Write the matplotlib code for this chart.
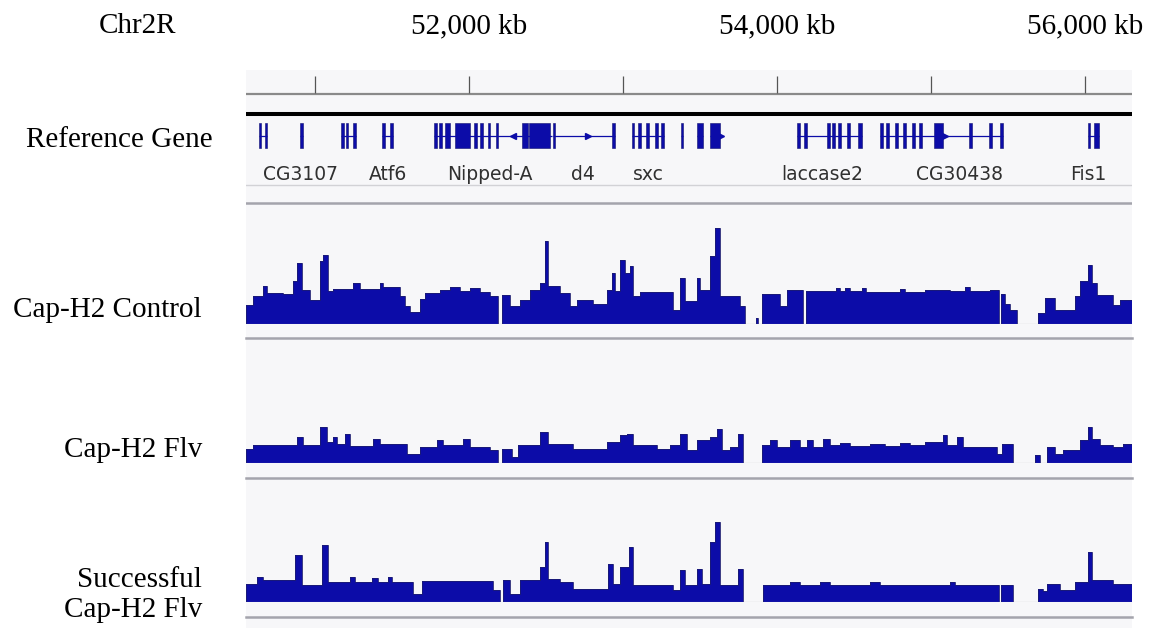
import matplotlib
matplotlib.use("Agg")
import matplotlib.pyplot as plt

# genomic window (kb) shown in the browser view
view_kb = (50552, 56305)
ruler_ticks = [51000, 52000, 53000, 54000, 55000, 56000]
label_ticks = [52000, 54000, 56000]
tick_labels = ["52,000 kb", "54,000 kb", "56,000 kb"]

# reference gene models: span, exons and strand arrows (kb)
gene_spans = [(50636, 50688), (50903, 50922), (51169, 51266), (51435, 51506),
              (51773, 52539), (52545, 52948), (53058, 53266), (53377, 53390),
              (53481, 53519), (53565, 53643), (54130, 54552), (54669, 55468),
              (56019, 56090)]
gene_exons = [
    [(50636, 50650), (50674, 50688)],
    [(50903, 50922)],
    [(51169, 51188), (51201, 51214), (51247, 51266)],
    [(51435, 51455), (51487, 51506)],
    [(51773, 51792), (51805, 51825), (51844, 51877), (51909, 52006), (52032, 52052),
     (52071, 52091), (52123, 52136), (52175, 52188), (52344, 52383), (52390, 52526)],
    [(52545, 52558), (52929, 52948)],
    [(53058, 53071), (53097, 53117), (53149, 53169), (53208, 53227), (53247, 53266)],
    [(53377, 53390)],
    [(53481, 53519)],
    [(53565, 53630)],
    [(54130, 54149), (54175, 54195), (54325, 54344), (54357, 54377), (54396, 54416),
     (54455, 54474), (54526, 54552)],
    [(54669, 54688), (54708, 54727), (54766, 54786), (54818, 54838), (54877, 54896),
     (54922, 54942), (55019, 55078), (55247, 55266), (55377, 55396), (55448, 55468)],
    [(56019, 56035), (56058, 56090)],
]
arrow_pos = [52286, 52773, 53637, 55090]
arrow_dir = ["<", ">", ">", ">"]

gene_names = ["CG3107", "Atf6", "Nipped-A", "d4", "sxc", "laccase2", "CG30438", "Fis1"]
gene_label_kb = [50909, 51474, 52136, 52740, 53162, 54292, 55188, 56019]

# coverage tracks: bin edges (kb) and heights
control_edges = [50552, 50597, 50662, 50688, 50792, 50857, 50883, 50916, 50968, 51032,
                 51052, 51084, 51117, 51247, 51292, 51422, 51442, 51552, 51584, 51617,
                 51682, 51714, 51812, 51877, 51942, 52006, 52071, 52136, 52188, 52214,
                 52266, 52331, 52396, 52461, 52494, 52513, 52591, 52656, 52701, 52805,
                 52896, 52929, 52948, 52981, 53013, 53045, 53065, 53110, 53325, 53370,
                 53403, 53481, 53500, 53565, 53597, 53630, 53760, 53792, 53864, 53877,
                 53903, 54019, 54065, 54169, 54188, 54383, 54409, 54442, 54474, 54552,
                 54578, 54799, 54831, 54961, 55123, 55221, 55253, 55383, 55442, 55455,
                 55481, 55513, 55558, 55695, 55740, 55805, 55935, 55968, 56019, 56045,
                 56078, 56182, 56227, 56305]
control_vals = [19, 28, 38, 31, 30, 43, 61, 34, 24, 63,
                69, 33, 35, 41, 35, 41, 37, 28, 18, 12,
                25, 31, 34, 37, 33, 36, 32, 28, 0, 29,
                18, 24, 34, 41, 83, 38, 31, 18, 24, 20,
                34, 51, 33, 64, 51, 58, 28, 32, 14, 46,
                23, 46, 34, 68, 96, 28, 18, 0, 6, 0,
                30, 18, 34, 0, 33, 36, 33, 36, 33, 36,
                32, 35, 32, 34, 33, 37, 33, 34, 0, 30,
                20, 14, 0, 11, 26, 14, 28, 43, 59, 41,
                29, 19, 24]

flv_edges = [50552, 50597, 50883, 50922, 51032, 51078, 51117, 51143, 51195, 51227,
             51377, 51422, 51597, 51682, 51792, 51831, 51961, 52006, 52136, 52188,
             52214, 52279, 52318, 52461, 52513, 52675, 52896, 52981, 53026, 53065,
             53221, 53305, 53370, 53416, 53481, 53565, 53610, 53643, 53695, 53747,
             53779, 53903, 53955, 54000, 54084, 54149, 54195, 54234, 54299, 54344,
             54409, 54474, 54604, 54701, 54799, 54864, 54961, 55078, 55104, 55169,
             55208, 55429, 55461, 55533, 55675, 55708, 55753, 55805, 55857, 55968,
             56019, 56045, 56097, 56182, 56247, 56305]
flv_vals = [14, 18, 26, 18, 36, 21, 26, 19, 29, 17,
            24, 19, 9, 16, 23, 18, 24, 16, 13, 0,
            14, 6, 18, 31, 19, 14, 21, 28, 29, 18,
            14, 18, 29, 13, 23, 26, 34, 13, 16, 29,
            0, 18, 23, 16, 23, 16, 23, 16, 24, 18,
            20, 17, 19, 17, 20, 18, 21, 28, 18, 26,
            16, 9, 19, 0, 8, 0, 16, 9, 13, 23,
            36, 24, 18, 16, 19]

success_edges = [50552, 50623, 50662, 50870, 50916, 51045, 51084, 51227, 51260, 51370,
                 51409, 51474, 51500, 51636, 51695, 52156, 52201, 52221, 52266, 52331,
                 52461, 52494, 52513, 52591, 52675, 52903, 52935, 52981, 53039, 53065,
                 53325, 53370, 53403, 53481, 53513, 53565, 53597, 53630, 53747, 53779,
                 53909, 54084, 54149, 54279, 54344, 54604, 54669, 55123, 55156, 55442,
                 55455, 55533, 55695, 55727, 55753, 55838, 55935, 56019, 56045, 56182,
                 56305]
success_vals = [18, 25, 22, 47, 17, 57, 20, 25, 20, 24,
                20, 25, 20, 8, 21, 12, 0, 22, 8, 22,
                35, 60, 23, 20, 13, 38, 18, 35, 55, 17,
                12, 32, 17, 33, 18, 60, 80, 17, 33, 0,
                17, 20, 17, 20, 17, 20, 17, 20, 17, 0,
                17, 0, 13, 11, 18, 12, 20, 50, 22, 18]

track_names = ["Cap-H2 Control", "Cap-H2 Flv", "Successful\nCap-H2 Flv"]

W, H = 1153, 632
fig = plt.figure(figsize=(W / 100, H / 100), dpi=100)
fig.patch.set_facecolor("white")
serif = ["Liberation Serif", "DejaVu Serif"]
blue = "#0c0ca8"
sep_color = "#a4a4ac"
big = 21


def px_axes(x0, y0, x1, y1):
    return fig.add_axes([x0 / W, 1 - y1 / H, (x1 - x0) / W, (y1 - y0) / H])


# light panel background
bg = px_axes(246, 70, 1132, 628)
bg.set_facecolor("#f7f7f9")
bg.set_xticks([])
bg.set_yticks([])
for s in bg.spines.values():
    s.set_visible(False)

# ruler + gene track (y in pixels from top)
hd = px_axes(246, 0, 1132, 210)
hd.set_xlim(*view_kb)
hd.set_ylim(210, 0)
hd.set_axis_off()
hd.axhline(93.5, color="#8a8a8a", lw=1.6)
hd.vlines(ruler_ticks, 76, 93, color="#555555", lw=0.9)
for t, lab in zip(label_ticks, tick_labels):
    hd.text(t, 33, lab, ha="center", va="baseline", fontsize=big, family=serif,
            clip_on=False)
hd.axhline(114, color="black", lw=2.9)

for (s, e), exons in zip(gene_spans, gene_exons):
    hd.hlines(135.5, s, e, color=blue, lw=0.9)
    hd.bar([a for a, b in exons], 25, width=[b - a for a, b in exons], bottom=123,
           align="edge", color=blue, edgecolor="#101070", linewidth=0.4)
for p, d in zip(arrow_pos, arrow_dir):
    hd.plot(p, 135.5, marker=d, color=blue, markersize=5, linestyle="none")
for name, pos in zip(gene_names, gene_label_kb):
    hd.text(pos, 174, name, ha="center", va="center", fontsize=13.5, color="#303030",
            family="DejaVu Sans")
hd.axhline(185, color="#d2d2d6", lw=1)
hd.axhline(203, color=sep_color, lw=1.8)

# coverage tracks
track_box = [(205, 324, 338), (341, 463, 478), (482, 602, 617)]
track_data = [(control_edges, control_vals), (flv_edges, flv_vals),
              (success_edges, success_vals)]
for (top, base, sep), (edges, vals) in zip(track_box, track_data):
    ax = px_axes(246, top, 1132, base)
    ax.set_xlim(*view_kb)
    ax.set_ylim(0, base - top)
    ax.set_axis_off()
    ax.axhline(0, color="#8c8c96", lw=0.8)
    ax.stairs(vals, edges, fill=True, color=blue, baseline=0)
    ax.stairs(vals, edges, color="#1c1c70", lw=0.6, baseline=0)
    ax.axhline(base - sep, color=sep_color, lw=1.8, clip_on=False)

fig.text(137 / W, 1 - 33 / H, "Chr2R", ha="center", va="baseline", fontsize=big,
         family=serif)
fig.text(213 / W, 1 - 147 / H, "Reference Gene", ha="right", va="baseline", fontsize=big,
         family=serif)
label_base = [317, 457, 617]
for name, y in zip(track_names, label_base):
    fig.text(202 / W, 1 - y / H, name, ha="right", va="baseline", fontsize=big,
             family=serif, linespacing=1.2)

fig.savefig("out.png", dpi=100)
